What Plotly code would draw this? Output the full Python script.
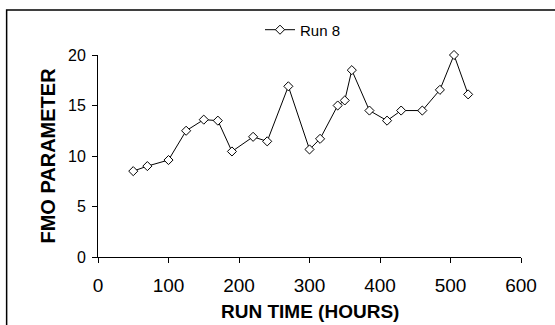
import plotly.graph_objects as go

run_time = [50, 70, 100, 125, 150, 170, 190, 220, 240, 270, 300, 315, 340, 350, 360, 385, 410, 430, 460, 485, 505, 525]
fmo = [8.5, 9.0, 9.6, 12.5, 13.6, 13.5, 10.45, 11.9, 11.45, 16.9, 10.65, 11.7, 15.0, 15.5, 18.5, 14.5, 13.5, 14.5, 14.5, 16.55, 20.0, 16.1]
series_name = "Run 8"
x_title = "RUN TIME (HOURS)"
y_title = "FMO PARAMETER"
x_ticks = [0, 100, 200, 300, 400, 500, 600]
y_ticks = [0, 5, 10, 15, 20]

fig = go.Figure()
fig.add_trace(go.Scatter(
    x=run_time, y=fmo, name=series_name, mode="lines+markers", cliponaxis=False,
    line=dict(color="black", width=1),
    marker=dict(symbol="diamond", size=7, color="white", line=dict(color="black", width=1)),
))

fig.update_layout(
    width=555, height=325,
    margin=dict(l=98, r=34, t=55, b=68),
    paper_bgcolor="white", plot_bgcolor="white",
    font=dict(family="Liberation Sans, Arial, sans-serif", color="black"),
    showlegend=True,
    legend=dict(x=0.383, y=1.124, xanchor="left", yanchor="middle", orientation="h",
                font=dict(size=15), bgcolor="rgba(0,0,0,0)", itemwidth=30),
    xaxis=dict(range=[0, 600], tickvals=x_ticks, ticks="outside", ticklen=5, tickcolor="black",
               showline=True, linecolor="black", linewidth=1, showgrid=False, zeroline=False,
               tickfont=dict(size=19), ticklabelstandoff=6),
    yaxis=dict(range=[0, 20], tickvals=y_ticks, ticks="outside", ticklen=5, tickcolor="black",
               showline=True, linecolor="black", linewidth=1, showgrid=False, zeroline=False,
               tickfont=dict(size=16), ticklabelstandoff=3,
               title=dict(text="<b>" + y_title + "</b>", font=dict(size=20), standoff=7)),
    annotations=[dict(text="<b>" + x_title + "</b>", xref="paper", yref="paper",
                      x=0.5, y=-0.27, xanchor="center", yanchor="middle",
                      showarrow=False, font=dict(size=19))],
    shapes=[dict(type="rect", xref="paper", yref="paper", x0=-0.216, x1=1.3, y0=-0.6, y1=1.223,
                 line=dict(color="black", width=1.5), fillcolor="rgba(0,0,0,0)", layer="below")],
)

fig.write_html("out.html")
